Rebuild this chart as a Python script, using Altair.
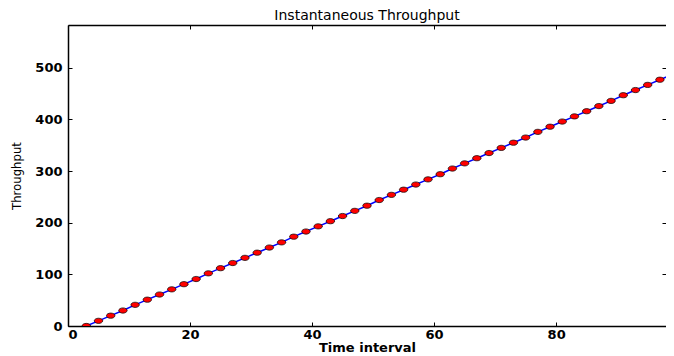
import altair as alt
import pandas as pd

time_interval = [3, 5, 7, 9, 11, 13, 15, 17, 19, 21, 23, 25, 27, 29, 31, 33,
                 35, 37, 39, 41, 43, 45, 47, 49, 51, 53, 55, 57, 59, 61, 63, 65,
                 67, 69, 71, 73, 75, 77, 79, 81, 83, 85, 87, 89, 91, 93, 95, 97, 99]
throughput = [0, 10, 20, 30, 41, 51, 61, 71, 81, 91, 102, 112, 122, 132, 142, 152,
              162, 173, 183, 193, 203, 213, 223, 233, 244, 254, 264, 274, 284, 294, 305, 315,
              325, 335, 345, 355, 365, 376, 386, 396, 406, 416, 426, 436, 447, 457, 467, 477, 487]

x_ticks = [0, 20, 40, 60, 80]
y_ticks = [0, 100, 200, 300, 400, 500]
x_domain = [0, 98]
y_domain = [0, 583]

df = pd.DataFrame({"t": time_interval, "thr": throughput})

xs = alt.Scale(domain=x_domain, nice=False, zero=False)
ys = alt.Scale(domain=y_domain, nice=False, zero=False)

label_font = "DejaVu Sans"

base = alt.Chart(df)

# main layer: line, bottom/left spines, labels and titles
line = base.mark_line(color="#0000ff", strokeWidth=1.5, clip=True).encode(
    x=alt.X("t:Q", scale=xs, axis=alt.Axis(
        orient="bottom", values=x_ticks, title="Time interval", ticks=False, tickSize=0,
        domain=True, domainColor="black", domainWidth=1.5, grid=False,
        labelPadding=2, titlePadding=0,
        labelFont=label_font, labelFontSize=13, labelFontWeight="bold", labelColor="black",
        titleFont=label_font, titleFontSize=13, titleFontWeight="bold", titleColor="black")),
    y=alt.Y("thr:Q", scale=ys, axis=alt.Axis(
        orient="left", values=y_ticks, title="Throughput", ticks=False, tickSize=0,
        domain=True, domainColor="black", domainWidth=1.5, grid=False,
        labelPadding=6, titlePadding=11,
        labelFont=label_font, labelFontSize=13, labelFontWeight="bold", labelColor="black",
        titleFont="DejaVu Sans Condensed", titleFontSize=13, titleFontWeight="normal",
        titleColor="black")),
)

ellipse = "M-1,0 A1,0.62 0 1,0 1,0 A1,0.62 0 1,0 -1,0 Z"

# markers, with inward ticks on top and right
pts = base.mark_point(shape=ellipse, filled=True, fill="#ff0000", stroke="black",
                      strokeWidth=0.7, opacity=1, size=72, clip=True).encode(
    x=alt.X("t:Q", scale=xs, axis=alt.Axis(
        orient="top", values=x_ticks, labels=False, title=None, domain=False, grid=False,
        ticks=True, tickSize=4, offset=-4, tickColor="black", tickWidth=1)),
    y=alt.Y("thr:Q", scale=ys, axis=alt.Axis(
        orient="right", values=y_ticks, labels=False, title=None, domain=False, grid=False,
        ticks=True, tickSize=4, offset=-4, tickColor="black", tickWidth=1)),
)

# inward ticks on bottom and left
ghost = base.mark_point(opacity=0, size=1).encode(
    x=alt.X("t:Q", scale=xs, axis=alt.Axis(
        orient="bottom", values=x_ticks, labels=False, title=None, domain=False, grid=False,
        ticks=True, tickSize=4, offset=-4, tickColor="black", tickWidth=1)),
    y=alt.Y("thr:Q", scale=ys, axis=alt.Axis(
        orient="left", values=y_ticks, labels=False, title=None, domain=False, grid=False,
        ticks=True, tickSize=4, offset=-4, tickColor="black", tickWidth=1)),
)

# top spine
ghost2 = base.mark_point(opacity=0, size=1).encode(
    x=alt.X("t:Q", scale=xs, axis=alt.Axis(
        orient="top", values=x_ticks, labels=False, title=None, domain=True,
        domainColor="black", domainWidth=1.5, grid=False, ticks=False)),
    y=alt.Y("thr:Q", scale=ys, axis=None),
)

chart = alt.layer(line, pts, ghost, ghost2).resolve_axis(
    x="independent", y="independent"
).properties(
    width=598,
    height=301,
    background="white",
    title=alt.TitleParams("Instantaneous Throughput", font=label_font, fontSize=14,
                          fontWeight="normal", color="black", offset=2, anchor="middle"),
    autosize=alt.AutoSizeParams(type="none"),
    padding={"left": 60, "top": 17, "right": 0, "bottom": 30},
).configure_view(
    strokeWidth=0
)

chart.save("out.html", embed_options={"renderer": "svg", "actions": False})
